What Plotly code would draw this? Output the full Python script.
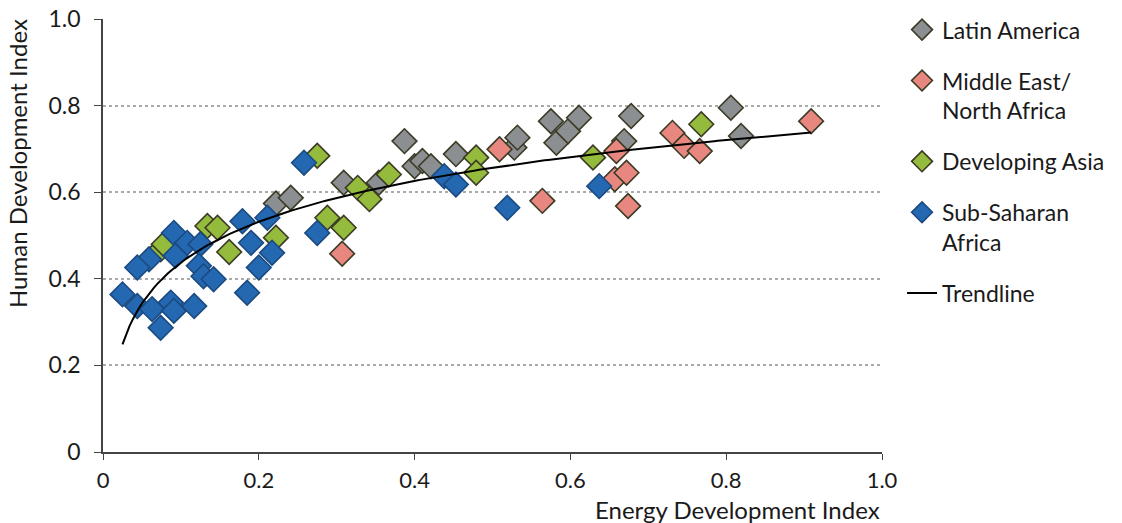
import numpy as np
import plotly.graph_objects as go

# ---- data ----
latin_x = [0.222, 0.241, 0.309, 0.354, 0.387, 0.400, 0.410, 0.421, 0.453, 0.528, 0.532,
           0.575, 0.582, 0.597, 0.611, 0.669, 0.678, 0.806, 0.819]
latin_y = [0.574, 0.587, 0.622, 0.622, 0.718, 0.660, 0.672, 0.660, 0.688, 0.703, 0.726,
           0.764, 0.714, 0.741, 0.772, 0.718, 0.776, 0.795, 0.730]

mena_x = [0.307, 0.509, 0.564, 0.657, 0.659, 0.672, 0.674, 0.731, 0.746, 0.766, 0.909]
mena_y = [0.458, 0.699, 0.580, 0.630, 0.695, 0.645, 0.568, 0.737, 0.707, 0.695, 0.764]

asia_x = [0.074, 0.078, 0.134, 0.147, 0.162, 0.222, 0.275, 0.288, 0.309, 0.327, 0.342,
          0.367, 0.479, 0.479, 0.629, 0.768]
asia_y = [0.468, 0.480, 0.522, 0.518, 0.462, 0.495, 0.684, 0.541, 0.518, 0.610, 0.584,
          0.641, 0.680, 0.645, 0.680, 0.757]

ssa_x = [0.258, 0.091, 0.108, 0.125, 0.059, 0.044, 0.093, 0.123, 0.129, 0.142, 0.025,
         0.044, 0.063, 0.087, 0.091, 0.117, 0.074, 0.185, 0.179, 0.190, 0.217, 0.200,
         0.211, 0.275, 0.438, 0.453, 0.519, 0.637]
ssa_y = [0.668, 0.506, 0.483, 0.480, 0.445, 0.426, 0.453, 0.430, 0.406, 0.399, 0.364,
         0.337, 0.330, 0.345, 0.326, 0.337, 0.287, 0.368, 0.533, 0.483, 0.460, 0.426,
         0.541, 0.506, 0.637, 0.618, 0.564, 0.614]

tick_vals = [0, 0.2, 0.4, 0.6, 0.8, 1.0]
tick_text = ["0", "0.2", "0.4", "0.6", "0.8", "1.0"]

# logarithmic trendline fitted to all points (as in a spreadsheet trendline)
all_x = np.array(latin_x + mena_x + asia_x + ssa_x)
all_y = np.array(latin_y + mena_y + asia_y + ssa_y)
b, a = np.polyfit(np.log(all_x), all_y, 1)
tx = np.linspace(all_x.min(), all_x.max(), 200)
ty = a + b * np.log(tx)

FONT = "Lato"
TXT = "#1a1a1a"
OUTLINE = "#3b3b26"

series = [
    ("Latin America", latin_x, latin_y, "#8c8f92", OUTLINE),
    ("Middle East/<br>North Africa", mena_x, mena_y, "#e8877f", OUTLINE),
    ("Developing Asia", asia_x, asia_y, "#95bb3d", OUTLINE),
    ("Sub-Saharan<br>Africa", ssa_x, ssa_y, "#2568b2", "#1b4a80"),
]

fig = go.Figure()
for i, (name, xs, ys, fill, edge) in enumerate(series):
    fig.add_trace(go.Scatter(
        x=xs, y=ys, mode="markers", name=name,
        legendgroup=f"g{i}",
        marker=dict(symbol="diamond", size=19, color=fill,
                    line=dict(color=edge, width=1.6)),
    ))
fig.add_trace(go.Scatter(
    x=tx, y=ty, mode="lines", name="Trendline", legendgroup="g9",
    line=dict(color="black", width=2),
))

fig.update_layout(
    width=1122, height=523,
    margin=dict(l=103, r=240, t=19, b=71, autoexpand=False),
    paper_bgcolor="white", plot_bgcolor="white",
    font=dict(family=FONT, size=23, color=TXT),
    showlegend=True,
    legend=dict(x=1.0257, y=0.316, xanchor="left", yanchor="bottom",
                traceorder="grouped", tracegroupgap=18, valign="top",
                font=dict(family=FONT, size=23, color=TXT),
                itemwidth=30, bgcolor="rgba(0,0,0,0)"),
    xaxis=dict(range=[0, 1], tickvals=tick_vals, ticktext=tick_text,
               showgrid=False, zeroline=False,
               showline=True, linecolor="#444444", linewidth=1.5,
               ticks="outside", ticklen=6, tickcolor="#444444",
               ticklabelstandoff=2,
               tickfont=dict(family=FONT, size=22, color=TXT)),
    yaxis=dict(range=[0, 1], tickvals=tick_vals, ticktext=tick_text,
               showgrid=True, gridcolor="#aaaaaa", griddash="dot", gridwidth=1.5,
               zeroline=False,
               showline=True, linecolor="#444444", linewidth=1.5,
               ticks="outside", ticklen=7, tickcolor="#444444",
               ticklabelstandoff=9,
               tickfont=dict(family=FONT, size=23, color=TXT)),
    annotations=[
        dict(text="Energy Development Index", xref="paper", yref="paper",
             x=1.0, y=0, xanchor="right", yanchor="top", yshift=-41,
             showarrow=False, font=dict(family=FONT, size=24, color=TXT)),
        dict(text="Human Development Index", xref="paper", yref="paper",
             x=0, y=1.0, xanchor="right", yanchor="top", xshift=-69, yshift=2,
             textangle=-90, showarrow=False, font=dict(family=FONT, size=24, color=TXT)),
    ],
)

fig.write_html("out.html")
